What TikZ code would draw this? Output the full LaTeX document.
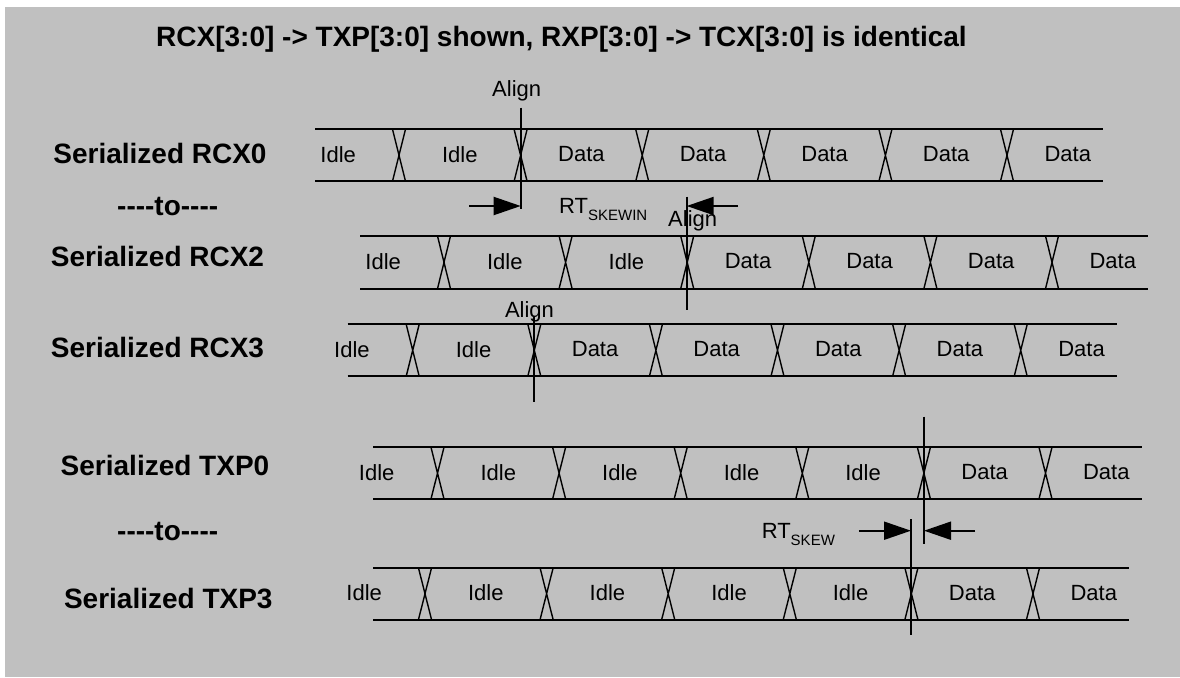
\documentclass[tikz,border=0pt]{standalone}
\usepackage{fontspec}
\newfontfamily\arialf{Liberation Sans}
\usepackage{xcolor}
\usetikzlibrary{positioning,calc,arrows.meta}

\definecolor{bggray}{RGB}{192,192,192}
\newcommand{\bitw}{121.6}
\newcommand{\skewsub}[1]{\raisebox{-7pt}{\fontsize{15}{15}\selectfont #1}}
% one serial lane: name, top, bottom, left end, right end, first crossing, labels
\newcommand{\sigrow}[7]{%
  \draw[rail] (#4,#2) -- (#5,#2) (#4,#3) -- (#5,#3);
  \foreach \lab [count=\i from 0] in {#7} {
    \node[sig] (#1-\i) at ({#6+(\i-0.5)*\bitw},{(#2+#3)/2-1}) {\lab};
    \ifnum\i<6
      \draw[xing] ({#6+\i*\bitw-6.5},#2) -- ({#6+\i*\bitw+6.5},#3)
                  ({#6+\i*\bitw+6.5},#2) -- ({#6+\i*\bitw-6.5},#3);
    \fi
  }
}

\tikzset{
  rail/.style={line width=2pt},
  xing/.style={line width=1.4pt},
  marker/.style={line width=2pt},
  skewarr/.style={line width=2pt,-{Triangle[length=27pt,width=18pt]}},
  sig/.style={font=\arialf\fontsize{22}{24}\selectfont,inner sep=0pt},
  alig/.style={font=\arialf\fontsize{22}{24}\selectfont,anchor=base,inner sep=0pt},
  lbl/.style={font=\arialf\fontsize{28}{32}\selectfont\bfseries,anchor=base,inner sep=0pt}
}

\begin{document}
\begin{tikzpicture}[x=1pt,y=-1pt]
  \useasboundingbox (0,0) rectangle (1180,677);
  \fill[bggray] (4.5,7) rectangle (1180,677);

  \node[lbl] (title) at (561.5,47) {RCX[3:0] -> TXP[3:0] shown, RXP[3:0] -> TCX[3:0] is identical};

  \node[lbl] (nrcxa) at (160,163.3) {Serialized RCX0};
  \node[lbl] (tora) at (167.7,215) {----to----};
  \node[lbl] (nrcxc) at (157.5,266.7) {Serialized RCX2};
  \node[lbl] (nrcxd) at (157.5,357.3) {Serialized RCX3};
  \node[lbl] (ntxpa) at (165,475) {Serialized TXP0};
  \node[lbl] (torb) at (167.7,540) {----to----};
  \node[lbl] (ntxpd) at (168.3,608.3) {Serialized TXP3};

  \sigrow{rcxa}{129.3}{181.3}{315}{1103.3}{399}{Idle,Idle,Data,Data,Data,Data,Data}
  \sigrow{rcxc}{236}{288.7}{360}{1148.3}{444}{Idle,Idle,Idle,Data,Data,Data,Data}
  \sigrow{rcxd}{324.3}{376.3}{347.7}{1116.7}{412.7}{Idle,Idle,Data,Data,Data,Data,Data}
  \sigrow{txpa}{447.3}{499}{373.2}{1141.9}{437.5}{Idle,Idle,Idle,Idle,Idle,Data,Data}
  \sigrow{txpd}{568}{619.5}{373.2}{1129}{425}{Idle,Idle,Idle,Idle,Idle,Data,Data}

  % align markers
  \draw[marker] (520.7,107.7) -- (520.7,209.3);
  \node[alig] (alga) at (516.7,96) {Align};
  \draw[marker] (686.7,196.7) -- (686.7,310);
  \node[alig] (algc) at (692.7,226) {Align};
  \draw[marker] (534,316.7) -- (534,401.7);
  \node[alig] (algd) at (529.5,317.3) {Align};
  \draw[marker] (924,416.7) -- (924,544);
  \draw[marker] (911,519.3) -- (911,635);

  % skew arrows
  \coordinate (skinL) at (469.3,206);
  \coordinate (skinA) at (520.7,206);
  \coordinate (skinR) at (738,206);
  \coordinate (skinC) at (686.7,206);
  \draw[skewarr] (skinL) -- (skinA);
  \draw[skewarr] (skinR) -- (skinC);
  \node[sig,anchor=base west] (rtin) at (559,213.3) {RT\skewsub{SKEWIN}};

  \coordinate (skL) at (858.9,530.7);
  \coordinate (skD) at (911,530.7);
  \coordinate (skR) at (975.2,530.7);
  \coordinate (skA) at (924,530.7);
  \draw[skewarr] (skL) -- (skD);
  \draw[skewarr] (skR) -- (skA);
  \node[sig,anchor=base west] (rtout) at (761.6,538.6) {RT\skewsub{SKEW}};
\end{tikzpicture}
\end{document}
